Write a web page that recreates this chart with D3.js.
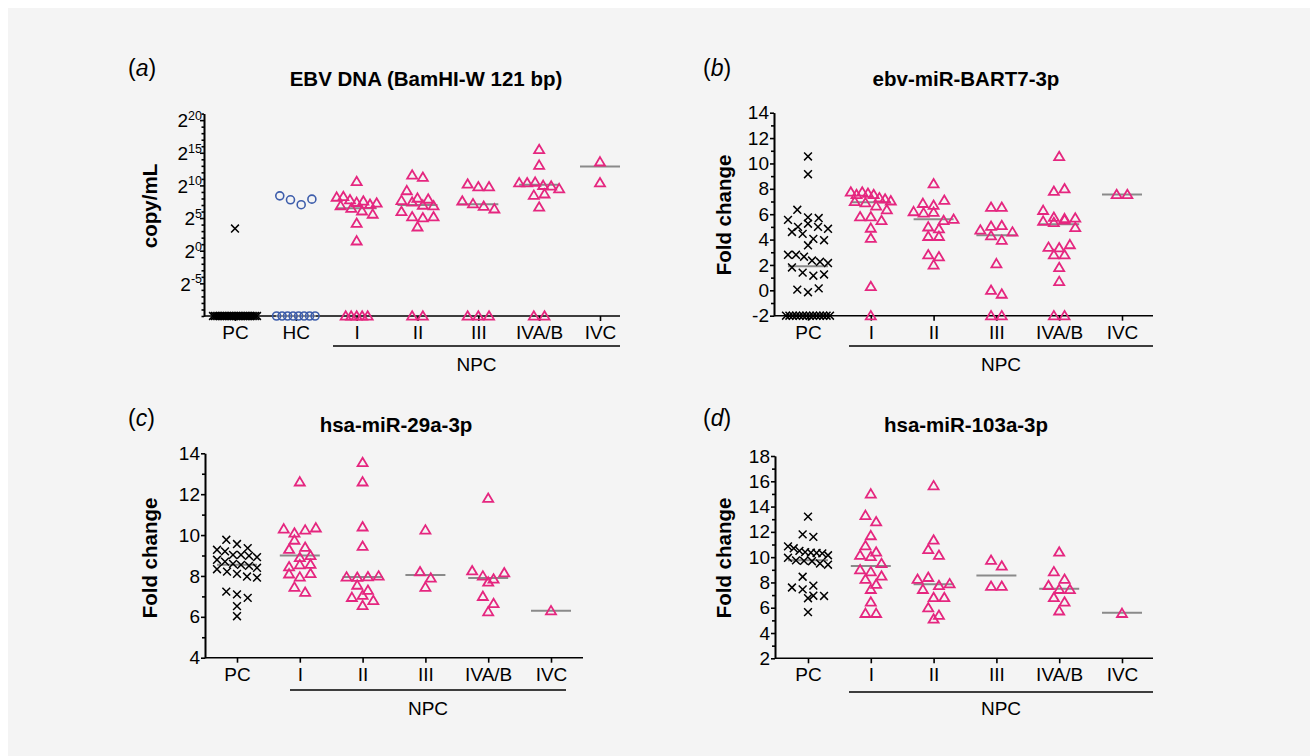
<!DOCTYPE html>
<html>
<head>
<meta charset="utf-8">
<script src="https://cdn.jsdelivr.net/npm/d3@7"></script>
<style>
body { margin: 0; background: #fff; }
text { font-family: "Liberation Sans", Arial, Helvetica, sans-serif; }
</style>
</head>
<body>
<svg id="chart" width="1310" height="756"></svg>
<script>
// categories
let catsA = ["PC", "HC", "I", "II", "III", "IVA/B", "IVC"]
let cats = ["PC", "I", "II", "III", "IVA/B", "IVC"]

// (a) EBV DNA, log2 copy/mL, undetected samples sit on the axis floor (-10)
let ebvPC = [3.4, -10, -10, -10, -10, -10, -10, -10, -10, -10, -10, -10, -10, -10, -10, -10, -10, -10, -10, -10, -10, -10, -10, -10, -10, -10, -10]
let ebvHC = [8.4, 7.8, 7.05, 7.9, -10, -10, -10, -10, -10, -10, -10, -10]
let ebvI = [10.6, 8.2, 8.3, 7.8, 7.4, 7.6, 7.1, 7.3, 6.9, 6.5, 6.1, 5.6, 4.2, 1.5, -10, -10, -10, -10, -10]
let ebvII = [11.6, 11.25, 9.2, 8.05, 7.9, 7.7, 7.45, 6.98, 6.88, 6.0, 5.2, 5.05, 5.2, 3.65, -10, -10]
let ebvIII = [10.2, 9.8, 9.8, 7.6, 7.2, 6.8, 6.4, -10, -10, -10]
let ebvIVAB = [15.5, 13.1, 10.4, 10.4, 10.5, 10.0, 9.9, 9.5, 8.5, 8.7, 6.7, -10, -10]
let ebvIVC = [13.6, 10.4]
let ebvMedians = [-10, -10, 6.5, 7.0, 7.1, 10.1, 12.9]
let ebvTicks = [-5, 0, 5, 10, 15, 20]
let ebvMinor = [-10, -9, -8, -7, -6, -4, -3, -2, -1, 1, 2, 3, 4, 6, 7, 8, 9, 11, 12, 13, 14, 16, 17, 18, 19, 21]

// (b) ebv-miR-BART7-3p fold change, undetected at -2
let bartPC = [10.55, 9.15, 6.35, 5.75, 5.7, 5.55, 5.0, 5.25, 5.0, 4.85, 4.6, 4.45, 4.05, 3.95, 3.55, 2.8, 2.8, 2.65, 2.35, 2.25, 2.15, 1.8, 1.4, 1.15, 1.25, 0.05, -0.15, 0.15, -2, -2, -2, -2, -2, -2, -2, -2, -2, -2, -2, -2, -2, -2]
let bartI = [7.75, 7.55, 7.75, 7.65, 7.55, 7.3, 7.2, 7.05, 7.0, 6.9, 6.65, 6.35, 5.8, 5.8, 5.5, 4.9, 4.1, 0.3, -2]
let bartII = [8.4, 6.85, 6.7, 7.1, 6.2, 6.1, 6.15, 5.5, 5.6, 5.0, 4.85, 4.25, 4.25, 2.8, 2.65, 2.0]
let bartIII = [6.55, 6.55, 4.75, 5.05, 5.1, 4.6, 4.3, 3.95, 2.1, 0.0, -0.3, -2, -2]
let bartIVAB = [10.55, 7.8, 8.0, 6.3, 5.75, 5.65, 5.45, 5.35, 5.55, 5.7, 4.95, 3.4, 3.35, 3.6, 2.8, 2.8, 1.8, 0.7, -2, -2]
let bartIVC = [7.55, 7.55]
let bartMedians = [1.9, 6.95, 5.6, 4.35, 5.2, 7.55]
let bartTicks = [-2, 0, 2, 4, 6, 8, 10, 12, 14]
let bartMinor = [-1, 1, 3, 5, 7, 9, 11, 13]

// (c) hsa-miR-29a-3p fold change
let m29PC = [9.77, 9.56, 9.36, 9.28, 9.2, 9.03, 9.03, 8.98, 8.92, 8.79, 8.7, 8.59, 8.54, 8.49, 8.4, 8.33, 8.21, 8.1, 7.97, 7.92, 7.23, 7.1, 6.93, 6.52, 6.03]
let m29I = [12.6, 10.3, 10.1, 10.25, 10.35, 9.75, 9.4, 9.3, 8.9, 9.0, 8.45, 8.55, 8.57, 8.1, 7.95, 8.12, 7.45, 7.2]
let m29II = [13.55, 12.6, 10.4, 9.45, 7.95, 7.93, 7.96, 8.0, 7.55, 7.3, 6.95, 7.05, 6.8, 6.55]
let m29III = [10.25, 8.2, 7.9, 7.45]
let m29IVAB = [11.8, 8.25, 8.0, 7.7, 7.85, 8.15, 7.0, 6.65, 6.25]
let m29IVC = [6.3]
let m29Medians = [8.55, 9.0, 7.95, 8.05, 7.9, 6.3]
let m29Ticks = [4, 6, 8, 10, 12, 14]
let m29Minor = [5, 7, 9, 11, 13]

// (d) hsa-miR-103a-3p fold change
let m103PC = [13.2, 11.8, 11.6, 10.85, 10.7, 10.5, 10.4, 10.35, 10.33, 10.3, 10.15, 9.95, 9.75, 9.7, 9.68, 9.5, 9.4, 8.45, 7.75, 7.6, 7.45, 6.95, 6.93, 6.75, 5.65]
let m103I = [15.0, 13.3, 12.8, 11.7, 10.9, 10.4, 10.15, 10.05, 9.5, 9.0, 8.85, 8.5, 8.25, 7.85, 7.45, 6.45, 5.55, 5.55]
let m103II = [15.65, 11.35, 10.6, 10.15, 8.25, 8.4, 7.75, 7.9, 7.45, 6.8, 6.8, 6.0, 5.4, 5.1]
let m103III = [9.75, 9.3, 7.7, 7.7]
let m103IVAB = [10.4, 8.85, 8.25, 7.75, 7.45, 7.44, 6.8, 6.45, 5.75]
let m103IVC = [5.55]
let m103Medians = [9.75, 9.3, 7.85, 8.55, 7.5, 5.6]
let m103Ticks = [2, 4, 6, 8, 10, 12, 14, 16, 18]
let m103Minor = [3, 5, 7, 9, 11, 13, 15, 17]

let pink = "#e5267f"
let blue = "#3d5dab"

let panels = [
    {letter: "a", title: "EBV DNA (BamHI-W 121 bp)", ylabel: "copy/mL", cats: catsA,
     groups: [ebvPC, ebvHC, ebvI, ebvII, ebvIII, ebvIVAB, ebvIVC], medians: ebvMedians,
     domain: [-10, 21], yRange: [316, 113.6], major: ebvTicks, minor: ebvMinor, pow2: true,
     axisX: 204, axisRight: 620, catRange: [235, 600], bracket: [333, 620, 346], npcY: 370.5,
     letterPos: [128, 76], titlePos: [426, 86], ylabelPos: [157, 206]},
    {letter: "b", title: "ebv-miR-BART7-3p", ylabel: "Fold change", cats: cats,
     groups: [bartPC, bartI, bartII, bartIII, bartIVAB, bartIVC], medians: bartMedians,
     domain: [-2, 14], yRange: [315.7, 112.7], major: bartTicks, minor: bartMinor, pow2: false,
     axisX: 774, axisRight: 1153, catRange: [808, 1122], bracket: [849, 1153, 346], npcY: 370.5,
     letterPos: [703, 76], titlePos: [966, 86], ylabelPos: [730.5, 215]},
    {letter: "c", title: "hsa-miR-29a-3p", ylabel: "Fold change", cats: cats,
     groups: [m29PC, m29I, m29II, m29III, m29IVAB, m29IVC], medians: m29Medians,
     domain: [4, 14], yRange: [657.7, 453.3], major: m29Ticks, minor: m29Minor, pow2: false,
     axisX: 205, axisRight: 583, catRange: [237, 551], bracket: [290, 566, 690], npcY: 715,
     letterPos: [128, 426], titlePos: [396, 431.5], ylabelPos: [157, 558]},
    {letter: "d", title: "hsa-miR-103a-3p", ylabel: "Fold change", cats: cats,
     groups: [m103PC, m103I, m103II, m103III, m103IVAB, m103IVC], medians: m103Medians,
     domain: [2, 18], yRange: [658.3, 456], major: m103Ticks, minor: m103Minor, pow2: false,
     axisX: 775, axisRight: 1153, catRange: [808, 1122], bracket: [849, 1153, 692], npcY: 715,
     letterPos: [703, 426], titlePos: [966, 431.5], ylabelPos: [730.5, 558]}
]

let svg = d3.select("#chart")

svg.append("rect")
    .attr("x", 8).attr("y", 8)
    .attr("width", 1302).attr("height", 748)
    .attr("fill", "#f4f4f4")

// column scatter like Prism: points in the same row band are spread sideways,
// left to right in the order they are listed
let spread = (vals, y, floor) => {
    let w = 10.7, maxHalf = 20, band = 9
    let base = y(floor)
    let placed = []

    let low = vals.filter(v => v === floor)
    let n = low.length
    if (n) {
        let s = n <= 3 ? w : Math.min(5.5, 44 / (n - 1))
        low.forEach((v, i) => placed.push({dx: (i - (n - 1) / 2) * s, py: base}))
    }

    let rest = vals.map((v, i) => ({v: v, i: i}))
        .filter(d => d.v !== floor)
        .sort((a, b) => b.v - a.v)
    let rows = []
    rest.forEach(d => {
        let last = rows[rows.length - 1]
        if (last && y(d.v) - y(last[0].v) < band) last.push(d)
        else rows.push([d])
    })
    rows.forEach(row => {
        let m = row.length
        let s = m > 1 ? Math.min(w, 2 * maxHalf / (m - 1)) : 0
        row.sort((a, b) => a.i - b.i)
            .forEach((d, k) => placed.push({dx: (k - (m - 1) / 2) * s, py: y(d.v)}))
    })
    return placed
}

let drawMarker = (g, kind, cx, cy) => {
    if (kind === "PC") {
        g.append("path")
            .attr("d", `M${cx - 3.9},${cy - 3.9}L${cx + 3.9},${cy + 3.9}M${cx - 3.9},${cy + 3.9}L${cx + 3.9},${cy - 3.9}`)
            .attr("stroke", "#000").attr("stroke-width", 1.5).attr("fill", "none")
    } else if (kind === "HC") {
        g.append("circle")
            .attr("cx", cx).attr("cy", cy).attr("r", 4)
            .attr("stroke", blue).attr("stroke-width", 1.6).attr("fill", "none")
    } else {
        g.append("path")
            .attr("d", `M${cx},${cy - 4.8}L${cx + 5},${cy + 3.6}L${cx - 5},${cy + 3.6}Z`)
            .attr("stroke", pink).attr("stroke-width", 1.8).attr("fill", "none")
    }
}

let drawPanel = (p) => {
    let g = svg.append("g")
    let x = d3.scalePoint().domain(p.cats).range(p.catRange)
    let y = d3.scaleLinear().domain(p.domain).range(p.yRange)

    // y axis, minor ticks first
    g.append("g")
        .attr("transform", `translate(${p.axisX},0)`)
        .call(d3.axisLeft(y).tickValues(p.minor).tickSize(p.pow2 ? 2.5 : 3).tickSizeOuter(0).tickFormat(""))
    let yAxis = g.append("g")
        .attr("transform", `translate(${p.axisX},0)`)
        .call(d3.axisLeft(y).tickValues(p.major).tickSize(4).tickPadding(1).tickSizeOuter(0)
            .tickFormat(p.pow2 ? "" : (d => String(d))))
    yAxis.selectAll("text").attr("font-size", 19).attr("fill", "#000")

    if (p.pow2) {
        let lab = yAxis.selectAll(".tick").append("text")
            .attr("x", -2).attr("y", 6.8)
            .attr("text-anchor", "end")
            .attr("fill", "#000")
        lab.append("tspan").attr("font-size", 19).text("2")
        lab.append("tspan").attr("font-size", 12.5).attr("dy", -7.5).text(d => String(d))
    }

    // x axis
    let xAxis = g.append("g")
        .attr("transform", `translate(0,${p.yRange[0]})`)
        .call(d3.axisBottom(x).tickSize(5).tickPadding(4.5).tickSizeOuter(0))
    xAxis.select(".domain").remove()
    xAxis.selectAll("text").attr("font-size", 19).attr("fill", "#000")
    g.append("line")
        .attr("x1", p.axisX).attr("x2", p.axisRight)
        .attr("y1", p.yRange[0]).attr("y2", p.yRange[0])

    g.selectAll("path.domain, line").attr("stroke", "#000").attr("stroke-width", 1.6)

    // NPC bracket
    g.append("line")
        .attr("x1", p.bracket[0]).attr("x2", p.bracket[1])
        .attr("y1", p.bracket[2]).attr("y2", p.bracket[2])
        .attr("stroke", "#000").attr("stroke-width", 1.6)
    g.append("text")
        .attr("x", (p.bracket[0] + p.bracket[1]) / 2).attr("y", p.npcY)
        .attr("text-anchor", "middle").attr("font-size", 19)
        .text("NPC")

    // medians
    g.selectAll(".median")
        .data(p.cats.map((c, i) => ({c: c, m: p.medians[i]})))
        .enter()
        .append("line")
        .attr("class", "median")
        .attr("x1", d => x(d.c) - 20).attr("x2", d => x(d.c) + 20)
        .attr("y1", d => y(d.m)).attr("y2", d => y(d.m))
        .attr("stroke", "#8a8a8a").attr("stroke-width", 2)

    // points
    p.cats.forEach((c, i) => {
        let pts = spread(p.groups[i], y, p.domain[0])
        pts.forEach(pt => drawMarker(g, c, x(c) + pt.dx, pt.py))
    })

    // panel letter, title, y label
    let lt = g.append("text")
        .attr("x", p.letterPos[0]).attr("y", p.letterPos[1])
        .attr("font-size", 23)
    lt.append("tspan").text("(")
    lt.append("tspan").attr("font-style", "italic").text(p.letter)
    lt.append("tspan").text(")")

    g.append("text")
        .attr("x", p.titlePos[0]).attr("y", p.titlePos[1])
        .attr("text-anchor", "middle").attr("font-size", 20.5).attr("font-weight", "bold")
        .text(p.title)

    g.append("text")
        .attr("transform", `translate(${p.ylabelPos[0]},${p.ylabelPos[1]}) rotate(-90)`)
        .attr("text-anchor", "middle").attr("font-size", 20.5).attr("font-weight", "bold")
        .text(p.ylabel)
}

panels.forEach(drawPanel)
</script>
</body>
</html>
